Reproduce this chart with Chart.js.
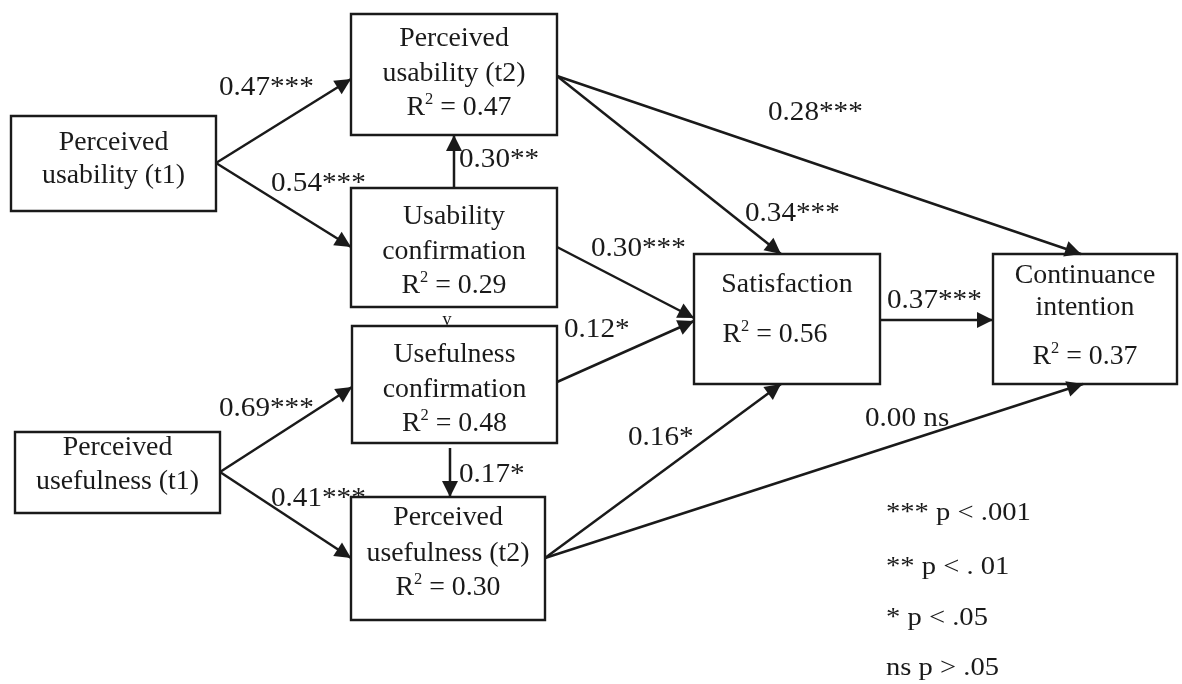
<!DOCTYPE html>
<html>
<head>
<meta charset="utf-8">
<script src="https://cdn.jsdelivr.net/npm/chart.js@4.4.1/dist/chart.umd.min.js"></script>
<style>
  html, body { margin: 0; background: #fff; }
  #wrap { width: 1182px; height: 684px; position: relative; }
</style>
</head>
<body>
<div id="wrap"><canvas id="miCanva"></canvas></div>
<script>
// --- data ---
const nodeIds = ['pu1', 'pu2', 'uc', 'ufc', 'puf2', 'puf1', 'sat', 'ci'];
const nodeText = [
  ['Perceived', 'usability (t1)'],
  ['Perceived', 'usability (t2)'],
  ['Usability', 'confirmation'],
  ['Usefulness', 'confirmation'],
  ['Perceived', 'usefulness (t2)'],
  ['Perceived', 'usefulness (t1)'],
  ['Satisfaction'],
  ['Continuance', 'intention']
];
const nodeR2 = [null, 0.47, 0.29, 0.48, 0.30, null, 0.56, 0.37];

const pathFrom = ['pu1', 'pu1', 'uc', 'pu2', 'pu2', 'uc', 'ufc', 'sat', 'puf1', 'puf1', 'ufc', 'puf2', 'puf2'];
const pathTo   = ['pu2', 'uc', 'pu2', 'sat', 'ci', 'sat', 'sat', 'ci', 'ufc', 'puf2', 'puf2', 'sat', 'ci'];
const pathCoef = [0.47, 0.54, 0.30, 0.34, 0.28, 0.30, 0.12, 0.37, 0.69, 0.41, 0.17, 0.16, 0.00];
const pathSig  = ['***', '***', '**', '***', '***', '***', '*', '***', '***', '***', '*', '*', ' ns'];

const sigLegend = ['*** p < .001', '** p < . 01', '* p < .05', 'ns p > .05'];

// --- layout (diagram units = canvas px) ---
const boxes = {
  pu1: [11, 116, 216, 211],
  pu2: [351, 14, 557, 135],
  uc: [351, 188, 557, 307],
  ufc: [352, 326, 557, 443],
  puf2: [351, 497, 545, 620],
  puf1: [15, 432, 220, 513],
  sat: [694, 254, 880, 384],
  ci: [993, 254, 1177, 384]
};
// row centres: text lines, then R2 row
const textRows = {
  pu1: [143, 176],
  pu2: [39, 74, 108],
  uc: [217, 252, 286],
  ufc: [355, 390, 424],
  puf2: [518, 554, 588],
  puf1: [448, 482],
  sat: [285, 335],
  ci: [276, 308, 357]
};
const r2Shift = { pu2: 5, sat: -12 };

// side anchor: l/r -> y on that side, t/b -> x on that side, third = gap
const edgeAnchors = [
  [['r', 163], ['l', 79]],
  [['r', 163], ['l', 247]],
  [['t', 454], ['b', 454]],
  [['r', 76], ['t', 781]],
  [['r', 76], ['t', 1081]],
  [['r', 247], ['l', 318]],
  [['r', 382], ['l', 321]],
  [['r', 320], ['l', 320]],
  [['r', 472], ['l', 387]],
  [['r', 472], ['l', 558]],
  [['b', 450, 5], ['t', 450]],
  [['r', 558], ['b', 781]],
  [['r', 558], ['b', 1083]]
];
const labelPos = [
  [219, 88], [271, 184], [459, 160], [745, 214], [768, 113], [591, 249], [564, 330],
  [887, 301], [219, 409], [271, 499], [459, 475], [628, 438], [865, 419]
];
const legendX = 886;
const legendY = [513, 567, 618, 668];

const ink = '#1a1a1a';
const serif = '"Liberation Serif", "Times New Roman", serif';

const anchor = (id, spec) => {
  const [x0, y0, x1, y1] = boxes[id];
  const g = spec[2] || 0;
  if (spec[0] === 'l') return { x: x0 - g, y: spec[1] };
  if (spec[0] === 'r') return { x: x1 + g, y: spec[1] };
  if (spec[0] === 't') return { x: spec[1], y: y0 - g };
  return { x: spec[1], y: y1 + g };
};

const datasets = [];
nodeIds.forEach((id) => {
  const [x0, y0, x1, y1] = boxes[id];
  datasets.push({
    kind: 'box',
    data: [{ x: x0, y: y0 }, { x: x1, y: y0 }, { x: x1, y: y1 }, { x: x0, y: y1 }, { x: x0, y: y0 }],
    showLine: true, borderColor: ink, borderWidth: 2.4, borderCapStyle: 'square', borderJoinStyle: 'miter',
    pointRadius: 0, fill: false, tension: 0
  });
});
pathFrom.forEach((from, i) => {
  const a = anchor(from, edgeAnchors[i][0]);
  const b = anchor(pathTo[i], edgeAnchors[i][1]);
  datasets.push({
    kind: 'edge',
    data: [a, b],
    showLine: true, borderColor: ink, borderWidth: 2.5, pointRadius: 0, fill: false, tension: 0
  });
});

// text stretched horizontally around its anchor
const textAt = (ctx, txt, x, y, k) => {
  ctx.save();
  ctx.translate(x, y);
  ctx.scale(k, 1);
  ctx.fillText(txt, 0, 0);
  ctx.restore();
};

const drawR2 = (ctx, cx, cy, val, size, k) => {
  const main = size + 'px ' + serif;
  const sup = Math.round(size * 0.6) + 'px ' + serif;
  const rest = ' = ' + val.toFixed(2);
  ctx.font = main;
  const wR = ctx.measureText('R').width;
  const wRest = ctx.measureText(rest).width;
  ctx.font = sup;
  const w2 = ctx.measureText('2').width;
  ctx.save();
  ctx.translate(cx, cy);
  ctx.scale(k, 1);
  let x = -(wR + w2 + wRest) / 2;
  ctx.textAlign = 'left';
  ctx.font = main;
  ctx.fillText('R', x, 0);
  x += wR;
  ctx.font = sup;
  ctx.fillText('2', x, -size * 0.3);
  x += w2;
  ctx.font = main;
  ctx.fillText(rest, x, 0);
  ctx.restore();
};

const diagramPlugin = {
  id: 'diagram',
  afterDatasetsDraw(chart) {
    const ctx = chart.ctx;
    const sx = chart.scales.x, sy = chart.scales.y;
    ctx.save();
    ctx.fillStyle = ink;
    // arrowheads
    chart.data.datasets.forEach((ds, i) => {
      if (ds.kind !== 'edge') return;
      const pts = chart.getDatasetMeta(i).data;
      const p0 = pts[0], p1 = pts[1];
      const ang = Math.atan2(p1.y - p0.y, p1.x - p0.x);
      const L = 16, W = 8;
      ctx.beginPath();
      ctx.moveTo(p1.x, p1.y);
      ctx.lineTo(p1.x - L * Math.cos(ang) + W * Math.sin(ang), p1.y - L * Math.sin(ang) - W * Math.cos(ang));
      ctx.lineTo(p1.x - L * Math.cos(ang) - W * Math.sin(ang), p1.y - L * Math.sin(ang) + W * Math.cos(ang));
      ctx.closePath();
      ctx.fill();
    });
    ctx.textBaseline = 'middle';
    // node text
    nodeIds.forEach((id, i) => {
      const [x0, , x1] = boxes[id];
      const cx = sx.getPixelForValue((x0 + x1) / 2);
      const rows = textRows[id];
      ctx.textAlign = 'center';
      ctx.font = '27px ' + serif;
      nodeText[i].forEach((line, k) => {
        textAt(ctx, line, cx, sy.getPixelForValue(rows[k]), 1.03);
      });
      if (nodeR2[i] !== null) {
        const ry = sy.getPixelForValue(rows[nodeText[i].length]);
        drawR2(ctx, cx + (r2Shift[id] || 0), ry, nodeR2[i], 27, 1.03);
      }
    });
    // coefficient labels
    ctx.textAlign = 'left';
    ctx.font = '27px ' + serif;
    pathCoef.forEach((c, i) => {
      textAt(ctx, c.toFixed(2) + pathSig[i], sx.getPixelForValue(labelPos[i][0]), sy.getPixelForValue(labelPos[i][1]), 1.08);
    });
    // significance legend
    ctx.font = '26px ' + serif;
    sigLegend.forEach((t, i) => {
      textAt(ctx, t, sx.getPixelForValue(legendX), sy.getPixelForValue(legendY[i]), 1.1);
    });
    // stray mark under usability confirmation
    ctx.font = '18px ' + serif;
    ctx.textAlign = 'center';
    ctx.fillText('v', sx.getPixelForValue(447), sy.getPixelForValue(320));
    ctx.restore();
  }
};

new Chart(document.getElementById('miCanva'), {
  type: 'scatter',
  data: { datasets },
  options: {
    responsive: true,
    maintainAspectRatio: false,
    animation: false,
    layout: { padding: 0 },
    plugins: { legend: { display: false }, tooltip: { enabled: false } },
    scales: {
      x: { type: 'linear', min: 0, max: 1182, display: false },
      y: { type: 'linear', min: 0, max: 684, reverse: true, display: false }
    }
  },
  plugins: [diagramPlugin]
});
</script>
</body>
</html>
